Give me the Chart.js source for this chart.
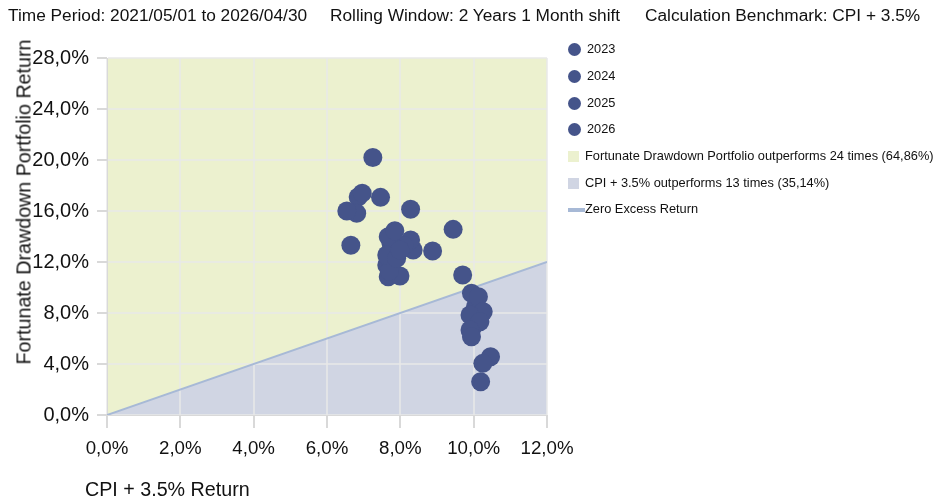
<!DOCTYPE html>
<html>
<head>
<meta charset="utf-8">
<script src="https://cdn.jsdelivr.net/npm/chart.js@4.4.1/dist/chart.umd.min.js"></script>
<style>
 html,body{margin:0;padding:0;background:#fff;}
 body{width:935px;height:502px;position:relative;overflow:hidden;font-family:"Liberation Sans",Arial,sans-serif;color:#111;}
 #wrap{position:absolute;left:0;top:0;width:935px;height:502px;}
 .hd{position:absolute;top:5px;font-size:17.3px;line-height:20px;white-space:nowrap;}
 .lg{position:absolute;left:568px;font-size:12.8px;white-space:nowrap;line-height:14px;}
 .lg i{display:inline-block;vertical-align:middle;margin-right:6px;}
 .dot{width:13px;height:13px;border-radius:50%;background:#45548a;}
 .sq{width:11px;height:11px;}
 .ln{width:17px;height:4px;margin-right:0!important;background:#a7b9d6;}
 .ttl{position:absolute;font-size:19.7px;line-height:23px;white-space:nowrap;}
</style>
</head>
<body>
<div id="wrap"><canvas id="sc" width="935" height="502"></canvas></div>

<div class="hd" style="left:8px">Time Period: 2021/05/01 to 2026/04/30</div>
<div class="hd" style="left:330px">Rolling Window: 2 Years 1 Month shift</div>
<div class="hd" style="left:645px">Calculation Benchmark: CPI + 3.5%</div>

<div class="lg" style="top:42px"><i class="dot"></i>2023</div>
<div class="lg" style="top:69px"><i class="dot"></i>2024</div>
<div class="lg" style="top:96px"><i class="dot"></i>2025</div>
<div class="lg" style="top:122px"><i class="dot"></i>2026</div>
<div class="lg" style="top:149px"><i class="sq" style="background:#ecf1cf"></i>Fortunate Drawdown Portfolio outperforms 24 times (64,86%)</div>
<div class="lg" style="top:176px"><i class="sq" style="background:#d0d5e3"></i>CPI + 3.5% outperforms 13 times (35,14%)</div>
<div class="lg" style="top:202px"><i class="ln"></i>Zero Excess Return</div>

<div class="ttl" style="left:85px;top:478px">CPI + 3.5% Return</div>
<div class="ttl" style="left:24px;top:202px;transform:translate(-50%,-50%) rotate(-90deg)">Fortunate Drawdown Portfolio Return</div>

<script>
// rolling window results: x = CPI + 3.5% return, y = portfolio return (%)
const years=['2023','2024','2025','2026'];
const bench2023=[9.94,10.13,10.26,9.90,10.17,9.90,9.94,10.46,10.25];
const port2023 =[9.55,9.28,8.10,7.84,7.32,6.67,6.14,4.57,4.05];
const bench2024=[10.19,10.05,10.00,10.10,9.70,7.67,7.99,7.63,7.70,7.63,7.90,7.99];
const port2024 =[2.61,8.50,7.00,7.70,10.98,10.85,10.90,11.76,11.30,12.55,12.30,12.94];
const bench2025=[8.35,8.88,8.28,8.10,7.75,7.67,7.85,9.44,8.28,6.65,6.81,6.54];
const port2025 =[12.94,12.86,13.73,13.30,13.40,13.98,14.45,14.56,16.13,13.31,15.82,16.00];
const bench2026=[7.46,6.85,6.96,7.25];
const port2026 =[17.07,17.10,17.40,20.20];
const xTicksMax=12, yTicksMax=28;
const zeroLine=[0,12];

const benchByYear=[bench2023,bench2024,bench2025,bench2026];
const portByYear=[port2023,port2024,port2025,port2026];

function pct(v){return Number(v).toFixed(1).replace('.',',')+'%';}

const pointSets=years.map((y,i)=>({
 type:'scatter',
 label:y,
 data:benchByYear[i].map((b,k)=>({x:b,y:portByYear[i][k]})),
 backgroundColor:'#45548a',
 borderColor:'#45548a',
 borderWidth:0,
 pointRadius:9.5,
 pointHoverRadius:9.5,
 order:0
}));

const diag=zeroLine.map(v=>({x:v,y:v}));

new Chart(document.getElementById('sc'),{
 type:'scatter',
 data:{datasets:[
  ...pointSets,
  {type:'line',label:'above',data:diag,fill:'end',backgroundColor:'#ecf1cf',borderWidth:0,pointRadius:0,order:2},
  {type:'line',label:'Zero Excess Return',data:diag,fill:'origin',backgroundColor:'#d0d5e3',borderColor:'#a7b9d6',borderWidth:2,pointRadius:0,order:1}
 ]},
 options:{
  responsive:false,
  animation:false,
  events:[],
  layout:{padding:{left:0,top:58,right:388,bottom:0}},
  plugins:{legend:{display:false},tooltip:{enabled:false},filler:{drawTime:'beforeDraw'}},
  scales:{
   x:{type:'linear',min:0,max:xTicksMax,
    ticks:{stepSize:2,callback:pct,color:'#111',font:{family:'"Liberation Sans", Arial',size:18.7},padding:10,maxRotation:0},
    grid:{color:'rgba(232,232,232,0.75)',lineWidth:2,tickLength:13,tickColor:'#d9d9d9'},
    border:{color:'#d9d9d9',width:1},
    afterFit:s=>{s.height=87;}
   },
   y:{type:'linear',min:0,max:yTicksMax,
    ticks:{stepSize:4,callback:pct,color:'#111',font:{family:'"Liberation Sans", Arial',size:20},padding:8},
    grid:{color:'rgba(232,232,232,0.75)',lineWidth:2,tickLength:10,tickColor:'#d9d9d9'},
    border:{color:'#d9d9d9',width:1},
    afterFit:s=>{s.width=107;}
   }
  }
 }
});
</script>
</body>
</html>
